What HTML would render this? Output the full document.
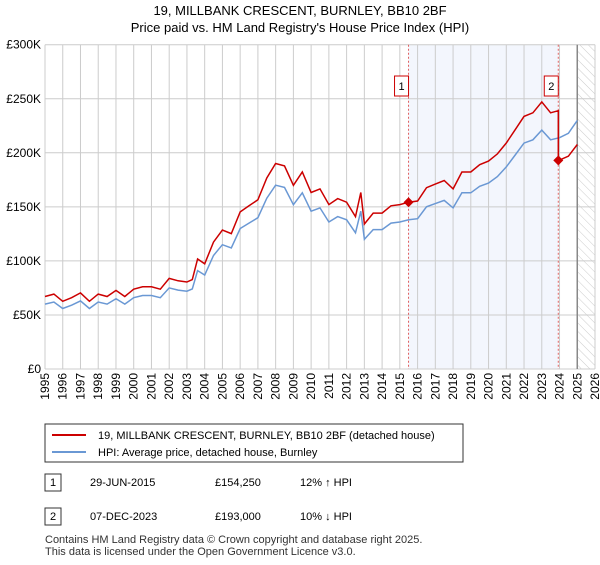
<!DOCTYPE html>
<html><head><meta charset="utf-8"><style>
body{margin:0;background:#fff;font-family:"Liberation Sans","DejaVu Sans",sans-serif;}
svg text{font-family:"Liberation Sans","DejaVu Sans",sans-serif;}
</style></head><body>
<svg id="chart" width="600" height="560" viewBox="0 0 600 560" xmlns="http://www.w3.org/2000/svg">
<defs><pattern id="hatch" width="6" height="6" patternUnits="userSpaceOnUse" patternTransform="rotate(-45)"><line x1="0" y1="0" x2="0" y2="6" stroke="#ccc" stroke-width="1"/></pattern></defs>
<text x="300" y="15" text-anchor="middle" font-size="13">19, MILLBANK CRESCENT, BURNLEY, BB10 2BF</text>
<text x="300" y="32" text-anchor="middle" font-size="13">Price paid vs. HM Land Registry's House Price Index (HPI)</text>
<g id="plot"></g>
<g>
<rect x="45" y="424" width="418" height="38" fill="#fff" stroke="#333"/>
<line x1="52" y1="435" x2="86" y2="435" stroke="#cc0000" stroke-width="2"/>
<text x="98" y="439" font-size="11">19, MILLBANK CRESCENT, BURNLEY, BB10 2BF (detached house)</text>
<line x1="52" y1="452" x2="86" y2="452" stroke="#6a98d4" stroke-width="2"/>
<text x="98" y="456" font-size="11">HPI: Average price, detached house, Burnley</text>
</g>
<g font-size="11">
<rect x="45" y="474" width="16" height="17" fill="#fff" stroke="#333"/><text x="53" y="486" text-anchor="middle">1</text>
<text x="90" y="486">29-JUN-2015</text><text x="215" y="486">£154,250</text><text x="300" y="486">12% ↑ HPI</text>
<rect x="45" y="508" width="16" height="17" fill="#fff" stroke="#333"/><text x="53" y="520" text-anchor="middle">2</text>
<text x="90" y="520">07-DEC-2023</text><text x="215" y="520">£193,000</text><text x="300" y="520">10% ↓ HPI</text>
</g>
<text x="45" y="543" font-size="11" fill="#333">Contains HM Land Registry data © Crown copyright and database right 2025.</text>
<text x="45" y="555" font-size="11" fill="#333">This data is licensed under the Open Government Licence v3.0.</text>
</svg>
<script>
const hpiYears=[1995,1995.5,1996,1996.5,1997,1997.5,1998,1998.5,1999,1999.5,2000,2000.5,2001,2001.5,2002,2002.5,2003,2003.3,2003.6,2004,2004.5,2005,2005.5,2006,2006.5,2007,2007.5,2008,2008.5,2009,2009.5,2010,2010.5,2011,2011.5,2012,2012.5,2012.8,2013,2013.5,2014,2014.5,2015,2015.5,2016,2016.5,2017,2017.5,2018,2018.5,2019,2019.5,2020,2020.5,2021,2021.5,2022,2022.5,2023,2023.5,2024,2024.5,2025];
const hpiValues=[60,62,56,59,63,56,62,60,65,60,66,68,68,66,75,73,72,74,91,87,105,115,112,130,135,140,158,170,168,152,163,146,149,136,141,138,126,146,120,129,129,135,136,138,139,150,153,156,149,163,163,169,172,178,187,198,209,212,221,212,214,218,230];
const saleDates=[2015.49,2023.93];
const salePrices=[154.25,193];
const saleLabels=["1","2"];
const yTicks=[0,50,100,150,200,250,300];
const yTickLabels=["£0","£50K","£100K","£150K","£200K","£250K","£300K"];
const xTicks=[1995,1996,1997,1998,1999,2000,2001,2002,2003,2004,2005,2006,2007,2008,2009,2010,2011,2012,2013,2014,2015,2016,2017,2018,2019,2020,2021,2022,2023,2024,2025,2026];

const L=45,R=595,T=44.7,B=369,x0=1995,x1=2026,yMax=300;
const xs=v=>L+(v-x0)/(x1-x0)*(R-L);
const ys=v=>B-v/yMax*(B-T);
const NS="http://www.w3.org/2000/svg";
const g=document.getElementById('plot');
function mk(t,a){const e=document.createElementNS(NS,t);for(const k in a)e.setAttribute(k,a[k]);g.appendChild(e);return e;}
function hpiAt(t){for(let i=0;i<hpiYears.length-1;i++){if(t<=hpiYears[i+1]){const f=(t-hpiYears[i])/(hpiYears[i+1]-hpiYears[i]);return hpiValues[i]+f*(hpiValues[i+1]-hpiValues[i]);}}return hpiValues[hpiValues.length-1];}

let e=mk('rect',{x:xs(saleDates[0]),y:T,width:xs(saleDates[1])-xs(saleDates[0]),height:B-T,fill:'#eef2fc',opacity:0.7});

e=mk('rect',{x:xs(2025),y:T,width:R-xs(2025),height:B-T,fill:'url(#hatch)'});

xTicks.forEach((t,i)=>{
 let l=mk('line',{x1:xs(t),x2:xs(t),y1:T,y2:B,stroke:'#ccc','stroke-width':1});
 
 let tx=mk('text',{x:0,y:0,'font-size':12,'text-anchor':'end',transform:`translate(${xs(t)+4},${B+4}) rotate(-90)`});
 tx.textContent=t;
 
});
yTicks.forEach((t,i)=>{
 let l=mk('line',{x1:L,x2:R,y1:ys(t),y2:ys(t),stroke:'#ccc','stroke-width':1});
 
 let tx=mk('text',{x:L-4,y:ys(t)+4,'font-size':12,'text-anchor':'end'});
 tx.textContent=yTickLabels[i];
 
});
e=mk('line',{x1:xs(2025),x2:xs(2025),y1:T,y2:B,stroke:'#888','stroke-width':1.5});

saleDates.forEach((d,i)=>{
 let l=mk('line',{x1:xs(d),x2:xs(d),y1:T,y2:B,stroke:'#e06060','stroke-width':1,'stroke-dasharray':'2,2'});
 
});
let p='';hpiYears.forEach((y,i)=>{p+=(i?'L':'M')+xs(y).toFixed(1)+','+ys(hpiValues[i]).toFixed(1);});
e=mk('path',{d:p,fill:'none',stroke:'#6a98d4','stroke-width':1.5});

const k1=salePrices[0]/hpiAt(saleDates[0]),k2=salePrices[1]/hpiAt(saleDates[1]);
let q='';let first=true;
hpiYears.forEach((y,i)=>{
 if(y<saleDates[1]){q+=(first?'M':'L')+xs(y).toFixed(1)+','+ys(hpiValues[i]*k1).toFixed(1);first=false;}
});
q+='L'+xs(saleDates[1]).toFixed(1)+','+ys(hpiAt(saleDates[1])*k1).toFixed(1);
q+='L'+xs(saleDates[1]).toFixed(1)+','+ys(salePrices[1]).toFixed(1);
hpiYears.forEach((y,i)=>{if(y>saleDates[1])q+='L'+xs(y).toFixed(1)+','+ys(hpiValues[i]*k2).toFixed(1);});
e=mk('path',{d:q,fill:'none',stroke:'#cc0000','stroke-width':1.5});

saleDates.forEach((d,i)=>{
 const cx=xs(d),cy=ys(salePrices[i]);
 let m=mk('path',{d:`M${cx},${cy-5}L${cx+5},${cy}L${cx},${cy+5}L${cx-5},${cy}Z`,fill:'#cc0000'});
 
 let b=mk('rect',{x:cx-14,y:76,width:14,height:20,fill:'#fff',stroke:'#cc0000'});
 
 let t=mk('text',{x:cx-7,y:90,'font-size':11,'text-anchor':'middle'});t.textContent=saleLabels[i];
 
});
</script>
</body></html>
